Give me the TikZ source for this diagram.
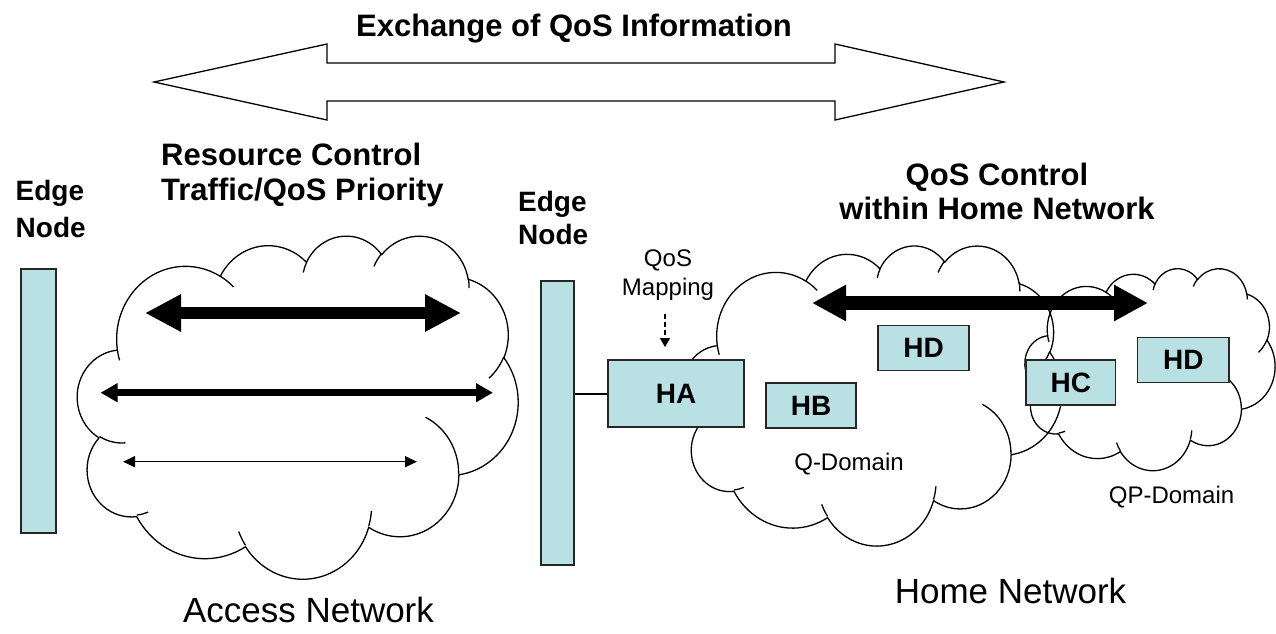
\documentclass[tikz,border=0pt]{standalone}
\usepackage{fontspec}
\setmainfont{Liberation Sans}
\usetikzlibrary{arrows.meta}

\definecolor{boxfill}{RGB}{185,224,227}

% One elliptical arc of a cloud outline: x radius, y radius, start angle and
% sweep, the angles measured as seen from the centre (y axis pointing down).
\newcommand\carc[4]{arc[x radius=#1, y radius=#2,
  start angle={atan2((#1)*sin(#3),(#2)*cos(#3))},
  delta angle={mod(atan2((#1)*sin((#3)+(#4)),(#2)*cos((#3)+(#4)))-atan2((#1)*sin(#3),(#2)*cos(#3))+720,360)}]}

% Cloud outline in a 432 x 432 frame
\newcommand\cloudoutline{%
  \draw[cloudline] (39.00,143.70)
    \carc{67.53}{91.90}{-190.4875}{123.7805}
    \carc{53.33}{72.67}{-144.1024}{89.9452}
    \carc{43.65}{59.45}{-145.8079}{99.7230}
    \carc{48.57}{65.95}{-130.9861}{117.2417}
    \carc{53.33}{72.73}{-78.7089}{109.0269}
    \carc{67.75}{92.20}{-46.2673}{130.2690}
    \carc{57.85}{78.67}{0.6250}{114.0333}
    \carc{67.52}{92.15}{22.4516}{115.1726}
    \carc{77.20}{105.43}{66.2426}{75.7110}
    \carc{43.60}{59.18}{-274.9421}{146.7356}
    \carc{43.45}{59.45}{-246.8285}{152.5189}
    -- cycle;
  % inner puff hooks
  \draw[cloudline]
    (46.93,261.77) \carc{43.45}{59.45}{86.7420}{26.4295}
    (69.28,348.99) \carc{43.60}{59.18}{73.6105}{11.4475}
    (164.78,390.90) \carc{67.52}{92.15}{137.6242}{14.0811}
    (288.27,347.51) \carc{67.52}{92.15}{6.4533}{15.9984}
    (341.29,229.54) \carc{57.85}{78.67}{-70.2924}{70.9174}
    (417.98,153.54) \carc{53.33}{72.73}{30.3180}{27.7515}
    (383.24,54.26) \carc{48.57}{65.95}{-13.7443}{14.8589}
    (290.78,39.52) \carc{48.57}{65.95}{-149.1815}{18.1954}
    (221.41,47.20) \carc{43.65}{59.45}{-163.4943}{17.6864}
    (140.00,51.92) \carc{67.53}{91.90}{-66.7070}{12.3194}
    (41.27,157.89) \carc{67.53}{91.90}{157.6544}{11.8582};
}

\tikzset{
  cloudline/.style={draw=black, line width=1.3pt, line join=round},
  hbox/.style={draw=black!85, line width=1.2pt, fill=boxfill, inner sep=0pt,
    font=\fontsize{28}{30}\selectfont\bfseries},
  edgebar/.style={draw=black!85, line width=1.2pt, fill=boxfill, inner sep=0pt},
  boldlbl/.style={font=\fontsize{31}{35}\selectfont\bfseries, inner sep=0pt},
  edgelbl/.style={font=\fontsize{28}{32}\selectfont\bfseries, inner sep=0pt},
  biglbl/.style={font=\fontsize{35}{40}\selectfont, inner sep=0pt},
  smalllbl/.style={font=\fontsize{24}{28}\selectfont, inner sep=0pt},
  exchange/.style={draw=black, line width=1.3pt, fill=white, line join=miter},
  fatflow/.style={line width=12pt,
    {Triangle[length=36pt,width=35pt]}-{Triangle[length=36pt,width=35pt]}},
  midflow/.style={line width=6.5pt,
    {Triangle[length=17pt,width=18pt]}-{Triangle[length=17pt,width=18pt]}},
  thinflow/.style={line width=1.5pt,
    {Triangle[length=12pt,width=11pt]}-{Triangle[length=12pt,width=11pt]}},
  homeflow/.style={line width=13.5pt,
    {Triangle[length=34pt,width=34pt]}-{Triangle[length=34pt,width=34pt]}},
  mapflow/.style={line width=1.5pt, dash pattern=on 5pt off 3pt,
    -{Triangle[length=9pt,width=10pt]}},
  link/.style={line width=2pt}
}

\begin{document}
\begin{tikzpicture}[x=1pt,y=-1pt]
\useasboundingbox (0,0) rectangle (1276,633);

% hollow double arrow
\draw[exchange] (154,82) -- (327,44) -- (327,63) -- (835,63) -- (835,44)
  -- (1004,82) -- (835,120) -- (835,101) -- (327,101) -- (327,120) -- cycle;
\node[boldlbl, anchor=base] (title) at (574,36) {Exchange of QoS Information};

% clouds
\begin{scope}[shift={(77.5,235)}, x=1.01968pt, y=-0.79398pt]
  \cloudoutline
\end{scope}
\begin{scope}[shift={(683,245)}, x=0.87731pt, y=-0.69444pt]
  \cloudoutline
\end{scope}
\begin{scope}[shift={(1025,268)}, x=0.5787pt, y=-0.46759pt]
  \cloudoutline
\end{scope}

% labels
\node[boldlbl, anchor=base west] (rc1) at (161,165) {Resource Control};
\node[boldlbl, anchor=base west] (rc2) at (161,200) {Traffic/QoS Priority};
\node[edgelbl, anchor=base west] (en1a) at (15.5,200) {Edge};
\node[edgelbl, anchor=base west] (en1b) at (15.5,237) {Node};
\node[edgelbl, anchor=base west] (en2a) at (518,211) {Edge};
\node[edgelbl, anchor=base west] (en2b) at (518,244) {Node};
\node[boldlbl, anchor=base] (qc1) at (997,185) {QoS Control};
\node[boldlbl, anchor=base] (qc2) at (997,219) {within Home Network};
\node[smalllbl, anchor=base] (qm1) at (668,266.7) {QoS};
\node[smalllbl, anchor=base] (qm2) at (668,295) {Mapping};
\node[smalllbl, anchor=base] (qd) at (849,470) {Q-Domain};
\node[smalllbl, anchor=base] (qpd) at (1171.5,503) {QP-Domain};
\node[biglbl, anchor=base] (an) at (308.5,622) {Access Network};
\node[biglbl, anchor=base] (hn) at (1010.5,603) {Home Network};

% edge nodes and home devices
\node[edgebar, minimum width=35pt, minimum height=264pt] (edge1) at (38.5,401) {};
\node[edgebar, minimum width=33pt, minimum height=284pt] (edge2) at (557.5,423) {};
\node[hbox, minimum width=136pt, minimum height=67pt] (ha) at (676,393.5) {HA};
\node[hbox, minimum width=90pt, minimum height=45pt] (hb) at (811,405.5) {HB};
\node[hbox, minimum width=91pt, minimum height=44.5pt] (hd1) at (923.5,348) {HD};
\node[hbox, minimum width=89.5pt, minimum height=45pt] (hc) at (1070.75,382.5) {HC};
\node[hbox, minimum width=91.5pt, minimum height=45pt] (hd2) at (1183.25,360) {HD};

\draw[link] (ha.west -| edge2.east) -- (ha.west);

% flows inside the access network
\coordinate (f1a) at (145,313);   \coordinate (f1b) at (461,313);
\coordinate (f2a) at (100.5,392.7); \coordinate (f2b) at (493,392.7);
\coordinate (f3a) at (123,461.7); \coordinate (f3b) at (417,461.7);
\draw[fatflow] (f1a) -- (f1b);
\draw[midflow] (f2a) -- (f2b);
\draw[thinflow] (f3a) -- (f3b);

% flow across the home network
\coordinate (h1a) at (812,303); \coordinate (h1b) at (1148,303);
\draw[homeflow] (h1a) -- (h1b);

% QoS mapping marker
\coordinate (mapstart) at (665,314);
\coordinate (mapend) at (665,347);
\draw[mapflow] (mapstart) -- (mapend);
\end{tikzpicture}
\end{document}
